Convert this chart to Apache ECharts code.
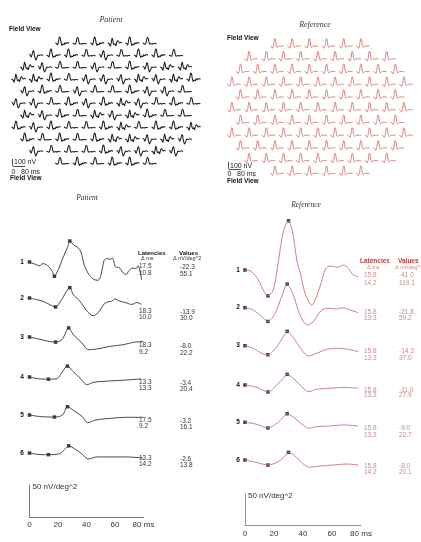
<!DOCTYPE html>
<html><head><meta charset="utf-8">
<script src="https://cdn.jsdelivr.net/npm/echarts@6/dist/echarts.min.js"></script>
<style>html,body{margin:0;padding:0;background:#fff}#c{width:421px;height:542px}</style>
</head><body><div id="c"></div>
<script>
// ---------------- DATA ----------------
const ringLabels = ['1','2','3','4','5','6'];
const timeTicks = [0, 20, 40, 60, 80];

const patientLatN1 = [17.5, 18.3, 18.3, 13.3, 17.5, 13.3];
const patientLatP1 = [10.8, 10.0, 9.2, 13.3, 9.2, 14.2];
const patientAmpN1 = [-22.3, -13.9, -8.0, -3.4, -3.2, -2.6];
const patientAmpP1 = [55.1, 30.0, 22.2, 20.4, 16.1, 13.8];

const referenceLatN1 = [15.8, 15.8, 15.8, 15.8, 15.8, 15.8];
const referenceLatP1 = [14.2, 13.3, 13.3, 13.3, 13.3, 14.2];
const referenceAmpN1 = [-41.0, -21.8, -14.3, -11.0, -9.0, -8.0];
const referenceAmpP1 = [119.1, 59.2, 37.0, 27.9, 22.7, 20.1];

// ring average waveforms [ms, nV/deg^2]
const patientRing1 = [[0,0],[4.5,-4],[7,-6],[9.3,-2.5],[11.5,-4],[13.8,-8],[16,-14.5],[17.5,-22.3],[20.5,-10],[23.2,5],[26.7,23],[28.3,32.8],[31.3,26],[33.8,23],[36.1,15.6],[38.5,-5],[42,-20.8],[45.4,-27.5],[48.2,-28.6],[50.1,-20.8],[52.4,2.6],[54.3,5.3],[56.6,4.2],[58.2,6],[60.5,-8],[62.9,-8.7],[65.2,-15.6],[67.6,-19.7],[70,-13],[72.3,-9.4],[74.6,-10.3],[76.2,-6],[78.7,-28]];
const patientRing2 = [[0,0],[5,-2.6],[9.7,-5.2],[14.3,-10.4],[18.3,-13.9],[22.5,-2.6],[28.3,16.1],[30.8,5],[35.4,-5],[40.5,-20.8],[44.7,-27.6],[48.2,-23],[53,-8],[57.7,-5],[60,-1.5],[63.5,-5],[67,-7],[71.8,-10],[75.2,-7],[78.7,-10]];
const patientRing3 = [[0,0],[8,-4],[13.8,-6.8],[18.3,-8],[22.8,-4],[27.5,14.2],[30.8,3.6],[36.8,-9.4],[41.3,-19.8],[47.2,-18.8],[56.5,-14.6],[65.8,-12],[72.8,-8.4],[79.8,-6.8]];
const patientRing4 = [[0,0],[7.3,-3],[13.3,-3.4],[18.8,-3],[23.5,9.4],[26.6,17],[30.5,8.8],[35.4,-1.6],[40.5,-12],[44.7,-8.4],[51.7,-6.8],[63.8,-5.3],[78.5,-3]];
const patientRing5 = [[0,0],[8,-2.6],[17.5,-3.2],[23.2,0],[26.7,12.9],[31.2,6.7],[37.1,-2.6],[41,-12],[46.4,-7.8],[57,-5.2],[68.5,-3.6],[79.8,-3.6]];
const patientRing6 = [[0,0],[8,-2.6],[13.3,-2.6],[21.3,-1],[24.5,5.2],[27.5,11.2],[31.9,6.2],[36.6,-1],[41.2,-9.4],[47.1,-6.2],[56.4,-6.2],[68.2,-6.2],[79.7,-7.8]];

const referenceRing1 = [[0,0],[4.6,-2.7],[9.2,-15.9],[12.6,-31.7],[15.8,-41],[19.5,-31.7],[23,13.2],[26.4,60.8],[30,78.1],[32.8,60.8],[35.9,13.2],[38.2,-5.2],[41.4,-37],[46,-55.6],[51.7,-26.5],[55.2,0],[58.6,6.3],[64.3,4.3],[67.8,7.9],[71.2,2.6],[74.7,-7.9],[78.1,-10.6]];
const referenceRing2 = [[0,0],[5.7,-3.7],[11.5,-14.3],[15.8,-21.8],[20.7,-8.9],[25.3,17.5],[29.1,37.4],[33.3,20.2],[37.9,-11.6],[43,-27.5],[47.1,-22.2],[52.9,-3.7],[58.6,-1],[63.2,-2],[67.8,0],[72.4,-3.7],[78.1,-7.9]];
const referenceRing3 = [[0,0],[5.7,-4.1],[11.5,-12.1],[15.8,-14.3],[21.9,-1.6],[26.4,14.3],[29.1,22.7],[34.5,9],[39.1,-6.8],[43.7,-16.3],[49.4,-12.1],[56.3,-5.7],[64.3,-4.1],[71.2,-5.7],[78.1,-9.5]];
const referenceRing4 = [[0,0],[8.1,-3.7],[15.8,-11],[21.9,0],[26.4,10.6],[29.1,16.9],[34.5,7.9],[39.1,-2.7],[43.7,-10.6],[49.4,-6.8],[58.6,-5.2],[67.8,-3.7],[78.1,-5.2]];
const referenceRing5 = [[0,0],[8.1,-3],[15.8,-9],[21.9,-1.6],[26.4,8],[29.1,13.7],[34.5,6],[39.1,-2.6],[43.7,-9.5],[49.4,-6.8],[58.6,-5.8],[67.8,-4.2],[78.1,-5.8]];
const referenceRing6 = [[0,0],[8.1,-4],[15.8,-8],[23,-2.6],[27.6,6.3],[30,12.1],[35.6,4.2],[40.2,-6.3],[44.8,-11.6],[51.7,-9.5],[60.9,-8],[70.1,-6.3],[78.1,-8]];

// field view (103 hexagons): traces per row and per-hexagon waveform shapes [ms, nV]
const fieldRowCounts = [6, 9, 10, 11, 10, 11, 10, 11, 10, 9, 6];
const patientFieldRows = ['ACADAC','BAACBCAAC','DBCCBCABDD','DDACBBBDBDA','BACBCCABBC','BBCABADBCAC','DBACDBDACC','ABACCADCAAD','ACACADDBDB','BCCCABBDB','CACAAC'];
const patientFieldWaveA = [[0,0],[6,-4],[13,-18],[18,10],[24,55],[28,48],[33,5],[38,-22],[44,-10],[50,-16],[56,2],[62,-6],[70,4],[80,-2]];
const patientFieldWaveB = [[0,8],[6,2],[12,-20],[18,5],[24,38],[28,30],[33,-20],[39,-45],[45,-25],[52,0],[60,-5],[70,2],[80,-4]];
const patientFieldWaveC = [[0,0],[8,-6],[15,-12],[21,20],[26,50],[31,45],[37,0],[43,-12],[50,-5],[58,-8],[68,-4],[80,-6]];
const patientFieldWaveD = [[0,0],[8,-8],[15,-30],[20,5],[25,45],[29,25],[34,-15],[40,-8],[46,-25],[52,10],[58,20],[66,0],[74,6],[80,0]];
const referenceFieldWave = [[0,0],[6,-5],[14,-28],[20,10],[27,90],[31,80],[36,8],[42,-18],[48,-6],[54,0],[62,-2],[70,0],[80,-3]];

// ---------------- LAYOUT ----------------
const SANS = "'Liberation Sans', Arial, sans-serif";
const NARROW = "'Liberation Sans Narrow', 'Liberation Sans', Arial, sans-serif";
const SERIF = "'Liberation Serif', 'Times New Roman', serif";
const RED = '#c23b3b', PINK = '#c98a8a';

const cfgPF = {cx:106, kx:0.175, ky:0.11, y0:43, pitch:12, top:28, h:150, color:'#1a1a1a', lw:1.05};
const cfgRF = {cx:320, kx:0.172, ky:0.083, y0:46, pitch:12.73, top:28, h:155, color:'#cf6262', lw:0.8};
const cfgPR = {left:29.5, kx:1.425, ky:0.64, base:[262,298,337,377,415,453], color:'#333', axisTop:485, axisH:32, labelMargin:4, axisColor:'#555'};
const cfgRR = {left:245, kx:1.45, ky:0.63, base:[270,307.7,345.7,385,422.3,460], color:'#c77373', axisTop:494, axisH:31, labelMargin:5, axisColor:'#777'};

const grids = [], xAxes = [], yAxes = [], series = [];

function addField(cfg, pick){
  const gi = grids.length;
  const W = 1080;
  const yMax = (cfg.y0 - cfg.top) / cfg.ky;
  const yMin = yMax - cfg.h / cfg.ky;
  const pitchV = cfg.pitch / cfg.ky;
  grids.push({left: cfg.cx - W/2*cfg.kx, top: cfg.top, width: W*cfg.kx, height: cfg.h, outerBoundsMode:'none'});
  xAxes.push({gridIndex:gi, type:'value', min:0, max:W, show:false});
  yAxes.push({gridIndex:gi, type:'value', min:yMin, max:yMax, show:false});
  fieldRowCounts.forEach((n, r) => {
    for (let i = 0; i < n; i++) {
      const wave = pick(r, i);
      const off = ((11 - n) / 2 + i) * 100;
      series.push({type:'line', xAxisIndex:gi, yAxisIndex:gi, silent:true, showSymbol:false, smooth:0.3,
        data: wave.map(p => [off + p[0], -r * pitchV + p[1]]),
        lineStyle:{width:cfg.lw, color:cfg.color}});
    }
  });
}

function addRings(cfg, waves, latN1, latP1, ampN1, ampP1){
  waves.forEach((w, k) => {
    const gi = grids.length;
    grids.push({left:cfg.left, width:80*cfg.kx, top:cfg.base[k] - 100*cfg.ky, height:170*cfg.ky, outerBoundsMode:'none'});
    xAxes.push({gridIndex:gi, type:'value', min:0, max:80, show:false});
    yAxes.push({gridIndex:gi, type:'value', min:-70, max:100, show:false});
    series.push({type:'line', xAxisIndex:gi, yAxisIndex:gi, silent:true, showSymbol:false, smooth:0.3,
      data:w, lineStyle:{width:0.9, color:cfg.color}});
    series.push({type:'scatter', xAxisIndex:gi, yAxisIndex:gi, silent:true, symbol:'rect', symbolSize:3.5,
      data:[[0,0],[latN1[k], ampN1[k]],[latN1[k]+latP1[k], ampN1[k]+ampP1[k]]],
      itemStyle:{color:'#111'}});
  });
  // time axis + 50 nV/deg^2 scale bar
  const gi = grids.length;
  grids.push({left:cfg.left, width:80*cfg.kx, top:cfg.axisTop, height:cfg.axisH, outerBoundsMode:'none'});
  xAxes.push({gridIndex:gi, type:'value', min:0, max:80,
    axisLine:{show:true, onZero:false, lineStyle:{color:cfg.axisColor, width:0.8}},
    axisTick:{show:false}, splitLine:{show:false},
    axisLabel:{customValues:timeTicks, margin:cfg.labelMargin, fontSize:8, fontFamily:SANS, color:'#333',
      formatter: v => v === timeTicks[timeTicks.length-1] ? v + ' ms' : String(v)}});
  yAxes.push({gridIndex:gi, type:'value', min:0, max:50,
    axisLine:{show:true, onZero:false, lineStyle:{color:cfg.axisColor, width:0.8}},
    axisTick:{show:false}, axisLabel:{show:false}, splitLine:{show:false}});
}

const pWaves = {A:patientFieldWaveA, B:patientFieldWaveB, C:patientFieldWaveC, D:patientFieldWaveD};
addField(cfgPF, (r, i) => pWaves[patientFieldRows[r][i]]);
addField(cfgRF, () => referenceFieldWave);
addRings(cfgPR, [patientRing1,patientRing2,patientRing3,patientRing4,patientRing5,patientRing6], patientLatN1, patientLatP1, patientAmpN1, patientAmpP1);
addRings(cfgRR, [referenceRing1,referenceRing2,referenceRing3,referenceRing4,referenceRing5,referenceRing6], referenceLatN1, referenceLatP1, referenceAmpN1, referenceAmpP1);

// ---------------- TEXT ----------------
const graphic = [];
function txt(text, x, y, font, fill, align){
  graphic.push({type:'text', x, y, silent:true, style:{text, font, fill:fill||'#222',
    align:align||'left', textAlign:align||'left', verticalAlign:'middle', textVerticalAlign:'middle'}});
}
function ln(x1, y1, x2, y2, c){
  graphic.push({type:'line', silent:true, shape:{x1,y1,x2,y2}, style:{stroke:c||'#222', lineWidth:0.8}});
}
// top field views
txt('Patient', 111, 20, 'italic 8px ' + SERIF, '#333', 'center');
txt('Field View', 9, 29, 'bold 6.5px ' + NARROW, '#111');
ln(12.5, 159, 12.5, 166); ln(13, 166.5, 25, 166.5);
txt('100 nV', 14, 162.5, '7px ' + SANS, '#222');
txt('0', 11.5, 172, '7px ' + SANS, '#222');
txt('80 ms', 21, 172, '7px ' + SANS, '#222');
txt('Field View', 10, 178, 'bold 6.5px ' + NARROW, '#111');

txt('Reference', 315, 25, 'italic 8px ' + SERIF, '#333', 'center');
txt('Field View', 227, 38, 'bold 6.5px ' + NARROW, '#111');
ln(228.5, 162, 228.5, 169); ln(229, 169.5, 241, 169.5);
txt('100 nV', 230, 166, '7px ' + SANS, '#222');
txt('0', 227.5, 174.5, '7px ' + SANS, '#222');
txt('80 ms', 237, 174.5, '7px ' + SANS, '#222');
txt('Field View', 227, 181, 'bold 6.5px ' + NARROW, '#111');

// ring panels
txt('Patient', 87, 198, 'italic 7.5px ' + SERIF, '#333', 'center');
txt('Reference', 306, 205, 'italic 7.5px ' + SERIF, '#333', 'center');
ringLabels.forEach((lab, k) => {
  txt(lab, 22, cfgPR.base[k], 'bold 6.5px ' + SANS, '#111', 'center');
  txt(lab, 238, cfgRR.base[k], 'bold 6.5px ' + SANS, '#111', 'center');
});
txt('Latencies', 138, 253, 'bold 6px ' + NARROW, '#111');
txt('\u0394 ms', 141, 258.5, '5.5px ' + SANS, '#333');
txt('Values', 179, 253, 'bold 6px ' + NARROW, '#111');
txt('\u0394 nV/deg^2', 173, 258.5, '5.5px ' + SANS, '#333');
const pNumY = [[266.5,273],[311.5,317.5],[345,352],[382.5,388.5],[420.5,426.5],[458,464.5]];
pNumY.forEach((yy, k) => {
  txt(patientLatN1[k].toFixed(1), 139, yy[0], '6.5px ' + SANS, '#333');
  txt(patientLatP1[k].toFixed(1), 139, yy[1], '6.5px ' + SANS, '#333');
  txt(patientAmpN1[k].toFixed(1), 180, yy[0] + 1, '6.5px ' + SANS, '#333');
  txt(patientAmpP1[k].toFixed(1), 180, yy[1] + 1, '6.5px ' + SANS, '#333');
});
txt('Latencies', 360, 261, 'bold 6.5px ' + NARROW, RED);
txt('\u0394 ms', 367, 267, '5.5px ' + SANS, PINK);
txt('Values', 398, 261, 'bold 6.5px ' + NARROW, RED);
txt('\u0394 nV/deg^2', 395, 267, '5.5px ' + SANS, PINK);
const rNumY = [[275,283.5],[312.5,318.5],[351.5,358],[390,395.5],[428.5,435],[466.5,472]];
rNumY.forEach((yy, k) => {
  txt(referenceLatN1[k].toFixed(1), 364, yy[0], '6.5px ' + SANS, PINK);
  txt(referenceLatP1[k].toFixed(1), 364, yy[1], '6.5px ' + SANS, PINK);
  txt(referenceAmpN1[k].toFixed(1), 399, yy[0], '6.5px ' + SANS, PINK);
  txt(referenceAmpP1[k].toFixed(1), 399, yy[1], '6.5px ' + SANS, PINK);
});
txt('50 nV/deg^2', 32.5, 486.5, '8px ' + SANS, '#333');
txt('50 nV/deg^2', 248, 496, '8px ' + SANS, '#333');

const chart = echarts.init(document.getElementById('c'), null, {renderer:'canvas'});
chart.setOption({animation:false, backgroundColor:'#fff', grid:grids, xAxis:xAxes, yAxis:yAxes, series, graphic});
</script></body></html>
